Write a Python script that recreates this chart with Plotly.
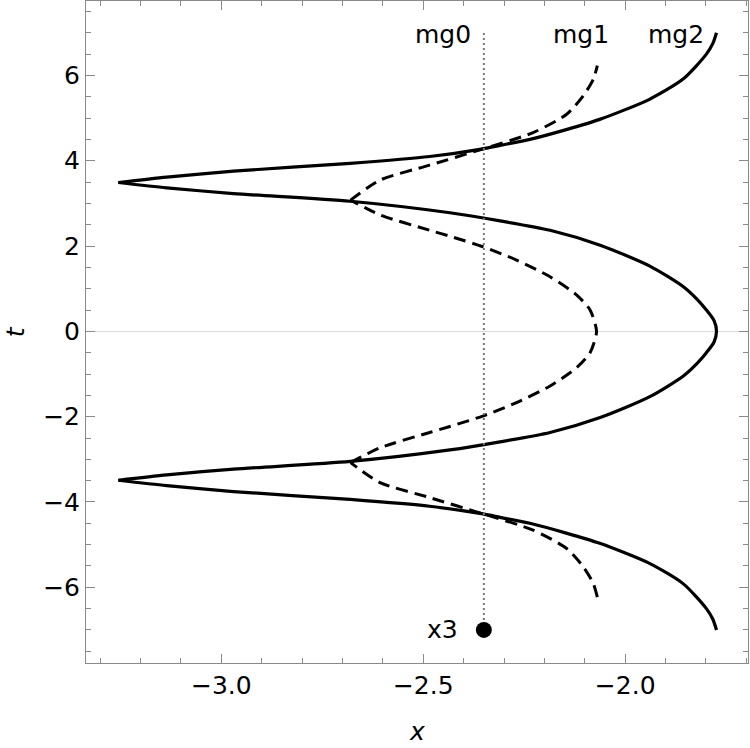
import plotly.graph_objects as go

# ---------------- data ----------------
# mg2 : solid curve, t ascending from -7 to 7
mg2_t = [-7.0, -6.75, -6.50, -5.92, -5.44, -4.97, -4.73, -4.50, -4.36, -4.28, -4.10, -3.94, -3.756,
         -3.616, -3.49, -3.365, -3.23, -3.05, -2.78, -2.59, -2.37, -2.02, -1.53, -1.045, -0.75, -0.50, -0.25,
         0.0, 0.25, 0.50, 0.75, 1.045, 1.53, 2.02, 2.37, 2.59, 2.78, 3.05, 3.23, 3.365, 3.49,
         3.616, 3.756, 3.94, 4.10, 4.28, 4.36, 4.50, 4.73, 4.97, 5.44, 5.92, 6.50, 6.75, 7.0]
mg2_x = [-1.774, -1.783, -1.799, -1.856, -1.940, -2.063, -2.146, -2.236, -2.310, -2.352, -2.484, -2.681, -2.970,
         -3.135, -3.255, -3.135, -2.970, -2.681, -2.434, -2.310, -2.186, -2.062, -1.939, -1.856, -1.822, -1.799, -1.780,
         -1.774, -1.780, -1.799, -1.822, -1.856, -1.939, -2.062, -2.186, -2.310, -2.434, -2.681, -2.970, -3.135, -3.255,
         -3.135, -2.970, -2.681, -2.484, -2.352, -2.310, -2.236, -2.146, -2.063, -1.940, -1.856, -1.799, -1.783, -1.774]

# mg1 : dashed curve, t ascending
mg1_t = [-6.23, -5.91, -5.52, -5.09, -4.66, -4.27, -3.897, -3.546, -3.077, -2.73, -2.37, -2.23,
         -1.98, -1.67, -1.28, -0.85, -0.50, 0.0, 0.50, 0.85, 1.28, 1.67, 1.98, 2.23, 2.37, 2.73,
         3.077, 3.546, 3.897, 4.27, 4.66, 5.09, 5.52, 5.91, 6.23]
mg1_x = [-2.069, -2.079, -2.104, -2.145, -2.228, -2.355, -2.484, -2.607, -2.680, -2.607, -2.484, -2.434,
         -2.351, -2.269, -2.186, -2.120, -2.087, -2.071, -2.087, -2.120, -2.186, -2.269, -2.351, -2.434,
         -2.484, -2.607, -2.680, -2.607, -2.484, -2.355, -2.228, -2.145, -2.104, -2.079, -2.069]

# mg0 : vertical dotted line
mg0_x = [-2.35, -2.35]
mg0_t = [-7.0, 7.0]

# x3 point
x3_x = [-2.35]
x3_t = [-7.0]

x_ticks = [-3.0, -2.5, -2.0]
t_ticks = [-6, -4, -2, 0, 2, 4, 6]

FONT = "DejaVu Sans"
FRAME = "#8a8a8a"
FS = 25


def split_at_cusps(xs, ts):
    """split a polyline into smooth pieces at its local minima in x (the cusps)"""
    cut = [0]
    for i in range(1, len(xs) - 1):
        if xs[i] < xs[i - 1] and xs[i] < xs[i + 1]:
            cut.append(i)
    cut.append(len(xs) - 1)
    return [(xs[a:b + 1], ts[a:b + 1]) for a, b in zip(cut[:-1], cut[1:])]


fig = go.Figure()

for xs, ts in split_at_cusps(mg1_x, mg1_t):
    fig.add_trace(go.Scatter(x=xs, y=ts, mode="lines",
                             line=dict(color="black", width=3, dash="12px,7px",
                                       shape="spline", smoothing=0.7),
                             showlegend=False, hoverinfo="skip"))

for xs, ts in split_at_cusps(mg2_x, mg2_t):
    fig.add_trace(go.Scatter(x=xs, y=ts, mode="lines",
                             line=dict(color="black", width=3.2, shape="spline", smoothing=0.7),
                             showlegend=False, hoverinfo="skip"))

fig.add_trace(go.Scatter(x=mg0_x, y=mg0_t, mode="lines",
                         line=dict(color="#777777", width=2, dash="2px,3px"),
                         showlegend=False, hoverinfo="skip"))

fig.add_trace(go.Scatter(x=x3_x, y=x3_t, mode="markers",
                         marker=dict(color="black", size=16),
                         showlegend=False, hoverinfo="skip"))

ann_font = dict(family=FONT, size=FS, color="black")
labels = [("mg0", -2.378, 6.97), ("mg1", -2.034, 6.97), ("mg2", -1.799, 6.97), ("x3", -2.410, -7.0)]
for txt, ax, ay in labels:
    fig.add_annotation(x=ax, y=ay, text=txt, showarrow=False, xanchor="right",
                       yanchor="middle", font=ann_font)

# axis titles (italic), placed as paper-referenced text
title_font = dict(family=FONT, size=FS, color="black", style="italic")
fig.add_annotation(x=0.5, y=-0.103, xref="paper", yref="paper", text="x", showarrow=False,
                   xanchor="center", yanchor="middle", font=title_font)
fig.add_annotation(x=-0.107, y=0.5, xref="paper", yref="paper", text="t", showarrow=False,
                   xanchor="center", yanchor="middle", textangle=-90, font=title_font)

axis_common = dict(
    showline=True, linecolor=FRAME, linewidth=1, mirror="ticks",
    ticks="inside", ticklen=9, tickcolor=FRAME, tickwidth=1,
    showgrid=False,
    tickfont=dict(family=FONT, size=FS, color="black"),
)

fig.update_xaxes(
    range=[-3.335, -1.696], tickvals=x_ticks, tickformat=".1f", zeroline=False,
    minor=dict(ticks="inside", ticklen=5, dtick=0.1, tick0=-3.0, tickcolor=FRAME, showgrid=False),
    **axis_common,
)
fig.update_yaxes(
    range=[-7.775, 7.745], tickvals=t_ticks, zeroline=True, zerolinecolor="#d9d9d9", zerolinewidth=1,
    minor=dict(ticks="inside", ticklen=5, dtick=0.5, tick0=0, tickcolor=FRAME, showgrid=False),
    **axis_common,
)

fig.update_layout(
    width=750, height=748,
    margin=dict(l=86, r=2, t=1, b=85),
    plot_bgcolor="white", paper_bgcolor="white",
    showlegend=False,
)

fig.write_html("out.html")
